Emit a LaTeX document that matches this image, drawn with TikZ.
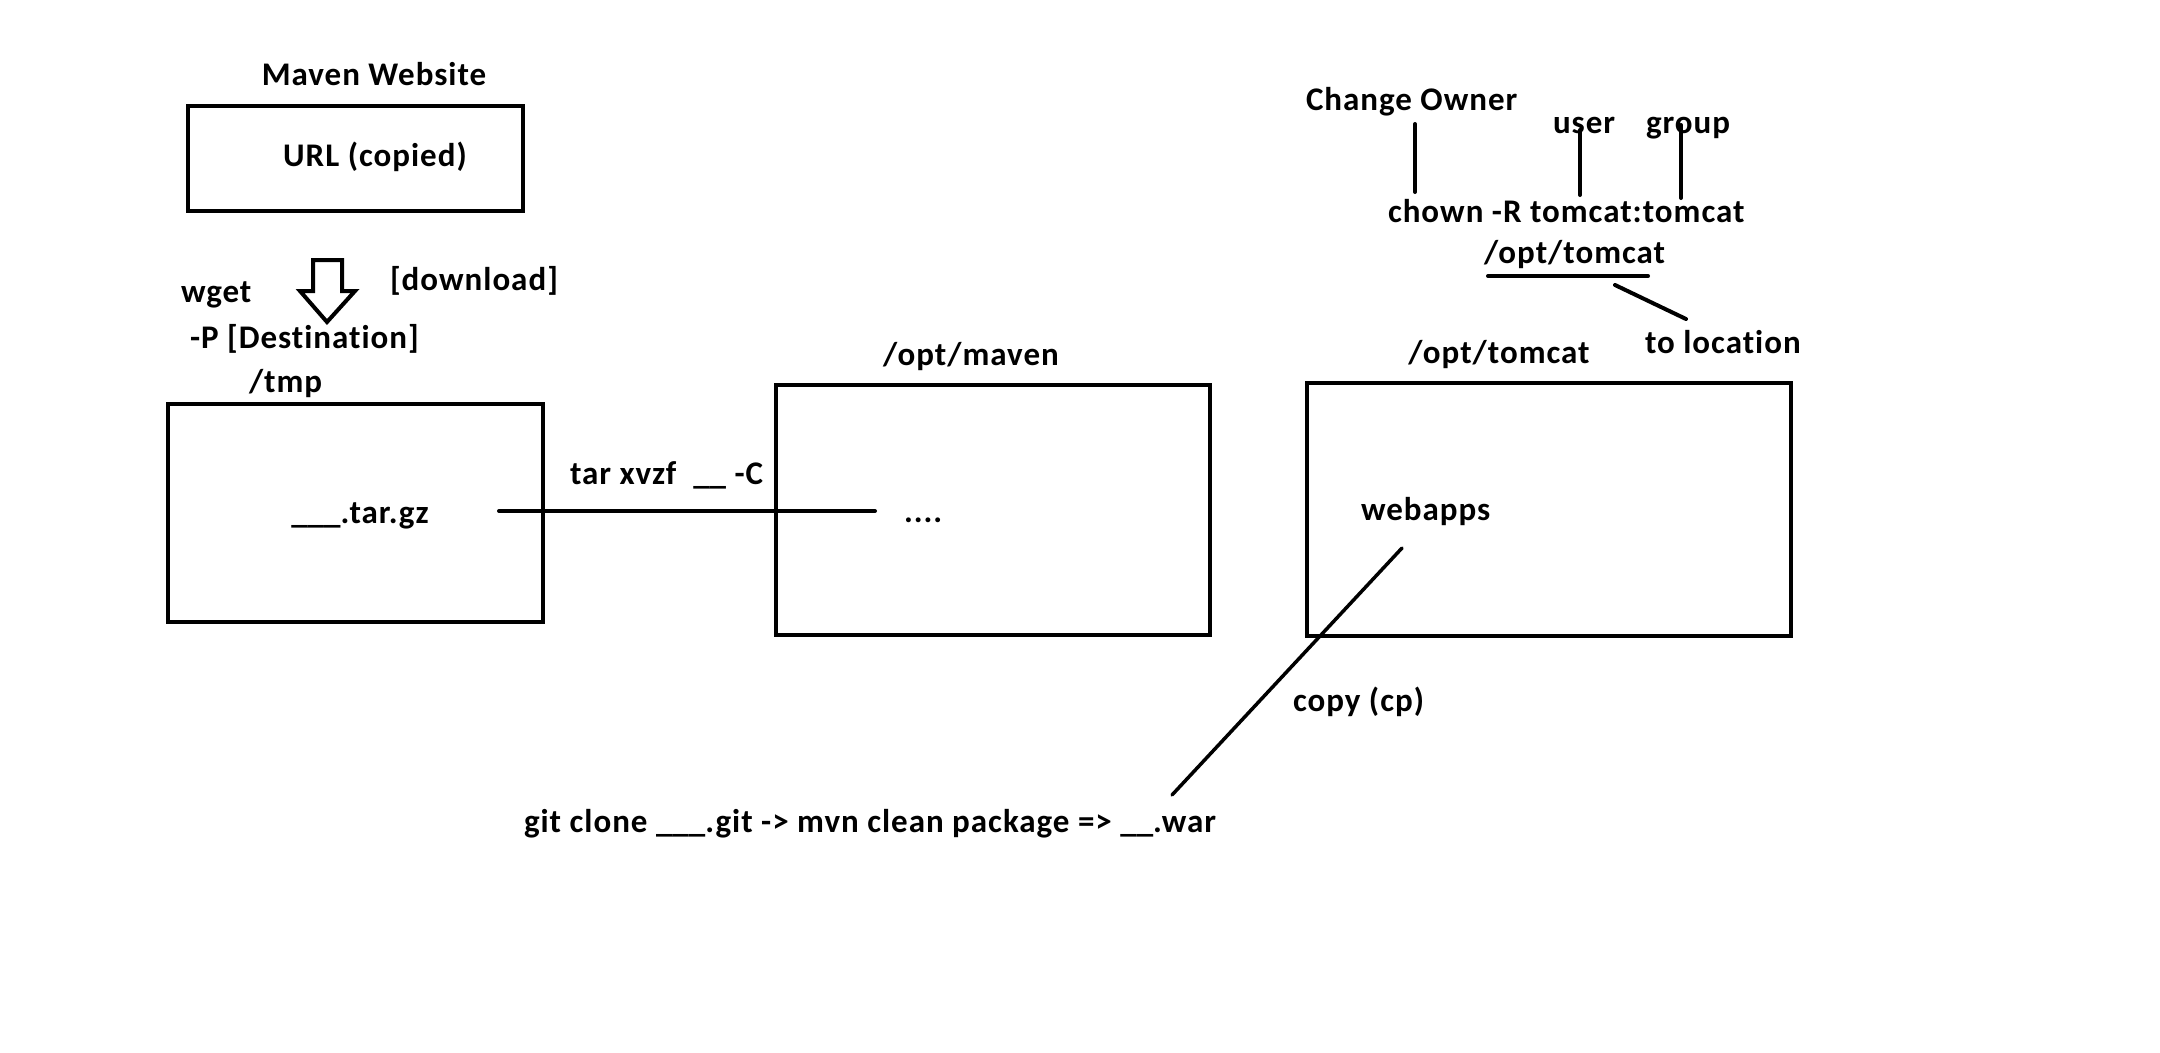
\documentclass[tikz,border=0pt]{standalone}
\usepackage{fontspec}
\setmainfont{Carlito}[Ligatures=NoCommon,LetterSpace=3]
\newfontfamily\blankfont{Carlito}
\usetikzlibrary{calc}
\newcommand{\drawdirbox}[4]{
	\draw #1 node (#2) [shape=rectangle,draw,anchor=north west,minimum width=#3,minimum height=#4] {};
}
\newcommand{\fillin}[1]{{\blankfont\bfseries#1}}

\begin{document}
\begin{tikzpicture}[x=1pt,y=-1pt,line width=4pt,line cap=round,
	every node/.style={inner sep=0pt,font=\bfseries\fontsize{33}{40}\selectfont}]
\useasboundingbox (0,0) rectangle (2160,1052);
% maven website
\drawdirbox{(186,104)}{web}{335pt}{105pt}
\draw (374,85) node (webtitle) [anchor=base] {Maven Website};
\draw (375,166) node (url) [anchor=base] {URL (copied)};
% download arrow
\coordinate (dl) at (313,260);
\draw[line join=miter,line cap=butt] (dl) -- ++(29,0) -- ++(0,31) -- ++(13,0) -- ++(-28,31) -- ++(-27,-31) -- ++(13,0) -- cycle;
\draw (179,302) node (wget) [anchor=base west] {wget};
\draw (388,290) node (download) [anchor=base west] {[download]};
\draw (188,348) node (dest) [anchor=base west] {-P [Destination]};
\draw (247,392) node (tmp) [anchor=base west] {/tmp};
% boxes
\drawdirbox{(166,402)}{tmpbox}{375pt}{218pt}
\drawdirbox{(774,383)}{mavenbox}{434pt}{250pt}
\drawdirbox{(1305,381)}{tomcatbox}{484pt}{253pt}
\draw (360,523) node (targz) [anchor=base] {\fillin{\_\_\_}.tar.gz};
\draw (971,365) node (mavendir) [anchor=base] {/opt/maven};
\draw (902,522) node (dots) [anchor=base west] {....};
\draw (1499,363) node (tomcatdir) [anchor=base] {/opt/tomcat};
\draw (1359,520) node (webapps) [anchor=base west] {webapps};
% extract
\coordinate (tarfrom) at (499,511);
\coordinate (tarto) at (875,511);
\draw (tarfrom) -- (tarto);
\draw (568,484) node (tar) [anchor=base west] {tar xvzf\ \ \fillin{\_\_} -C};
% copy war
\draw (522,832) node (git) [anchor=base west] {git clone \fillin{\_\_\_}.git -> mvn clean package => \fillin{\_\_}.war};
\coordinate (cpfrom) at (1402,548);
\coordinate (cpto) at (1172,795);
\draw[line width=3.5pt] (cpfrom) -- (cpto);
\draw (1291,711) node (copy) [anchor=base west] {copy (cp)};
% chown
\draw (1304,110) node (owner) [anchor=base west] {Change Owner};
\draw (1551,133) node (user) [anchor=base west] {user};
\draw (1644,133) node (group) [anchor=base west] {group};
\foreach \n/\x/\ya/\yb in {own/1415/124/192,usr/1580/130/195,grp/1681/125/198} {
	\coordinate (\n) at (\x,\ya);
	\draw (\n) -- (\x,\yb);
}
\draw (1386,222) node (chown) [anchor=base west] {chown -R tomcat:tomcat};
\draw (1482,263) node (location) [anchor=base west] {/opt/tomcat};
\coordinate (ul) at (1488,276);
\draw (ul) -- ++(160,0);
\coordinate (loc) at (1615,285);
\draw (loc) -- (1686,319);
\draw (1643,353) node (toloc) [anchor=base west] {to location};
\end{tikzpicture}
\end{document}
